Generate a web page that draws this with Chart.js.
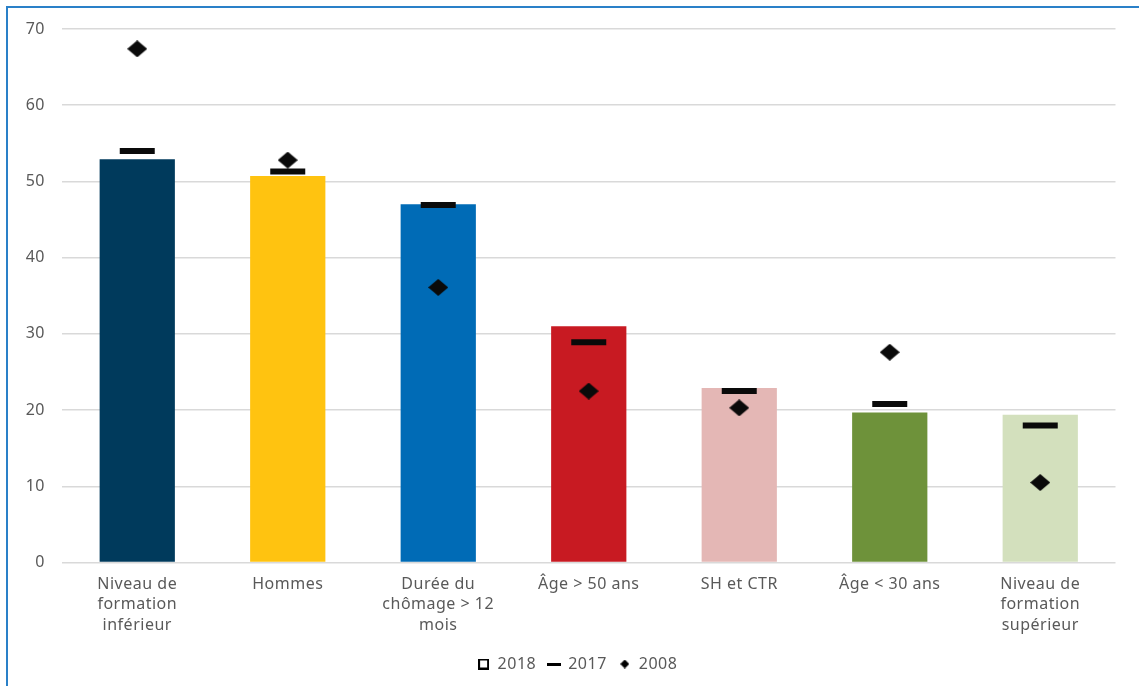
<!DOCTYPE html>
<html>
<head>
<meta charset="utf-8">
<script src="https://cdn.jsdelivr.net/npm/chart.js@4"></script>
<style>
  html, body { margin: 0; padding: 0; background: #fff; overflow: hidden; }
  #wrap { position: relative; width: 1139px; height: 686px; }
  #frame { position: absolute; left: 6px; top: 6px; width: 1200px; height: 760px; border: 2px solid #2A80C8; box-sizing: border-box; pointer-events: none; }
</style>
</head>
<body>
<div id="wrap">
  <canvas id="chart"></canvas>
  <div id="frame"></div>
</div>
<script>
// data
const categories = [
  ['Niveau de', 'formation', 'inférieur'],
  'Hommes',
  ['Durée du', 'chômage > 12', 'mois'],
  'Âge > 50 ans',
  'SH et CTR',
  'Âge < 30 ans',
  ['Niveau de', 'formation', 'supérieur']
];
const values2018 = [52.9, 50.7, 47.0, 31.0, 22.9, 19.7, 19.4];
const values2017 = [54.0, 51.3, 46.9, 28.9, 22.5, 20.8, 18.0];
const values2008 = [67.4, 52.8, 36.1, 22.5, 20.3, 27.6, 10.5];
const seriesNames = ['2018', '2017', '2008'];
const barColors = ['#003A5C', '#FFC310', '#006BB6', '#C81A22', '#E4B7B5', '#6E923A', '#D3E0BD'];

const GREY = '#595959';

function icon(w, h, draw) {
  const c = document.createElement('canvas');
  c.width = w; c.height = h;
  draw(c.getContext('2d'), w, h);
  return c;
}

const diamond = icon(20, 17, (g, w, h) => {
  g.fillStyle = '#0a0a0a';
  g.beginPath();
  g.moveTo(w / 2, 0); g.lineTo(w, h / 2); g.lineTo(w / 2, h); g.lineTo(0, h / 2);
  g.closePath(); g.fill();
});

const legendSquare = icon(11, 11, (g, w, h) => {
  g.strokeStyle = '#000'; g.lineWidth = 2;
  g.strokeRect(1, 1, w - 2, h - 2);
});
const legendLine = icon(14, 3, (g, w, h) => {
  g.fillStyle = '#000'; g.fillRect(0, 0, w, h);
});
const legendDiamond = icon(9, 9, (g, w, h) => {
  g.fillStyle = '#000';
  g.beginPath();
  g.moveTo(w / 2, 0); g.lineTo(w, h / 2); g.lineTo(w / 2, h); g.lineTo(0, h / 2);
  g.closePath(); g.fill();
});
const legendIcons = [legendSquare, legendLine, legendDiamond];

// the reference text is a little spaced out, and its legend sits a bit right of centre
const tweaks = {
  id: 'tweaks',
  beforeLayout: (chart) => { chart.ctx.letterSpacing = '0.5px'; },
  afterLayout: (chart) => {
    chart.legend.left += 18;
    chart.legend.right += 18;
  },
  beforeDraw: (chart) => { chart.ctx.letterSpacing = '0.5px'; }
};

const ctx = document.getElementById('chart').getContext('2d');

new Chart(ctx, {
  type: 'bar',
  plugins: [tweaks],
  data: {
    labels: categories,
    datasets: [
      {
        type: 'bar',
        label: seriesNames[0],
        data: values2018,
        backgroundColor: barColors,
        borderWidth: 0,
        barPercentage: 0.5,
        categoryPercentage: 1,
        order: 3
      },
      {
        type: 'line',
        label: seriesNames[1],
        data: values2017,
        showLine: false,
        pointStyle: 'line',
        pointRadius: 17.5,
        pointBorderWidth: 6,
        pointBorderColor: '#0a0a0a',
        pointBackgroundColor: '#0a0a0a',
        order: 2
      },
      {
        type: 'line',
        label: seriesNames[2],
        data: values2008,
        showLine: false,
        pointStyle: diamond,
        pointRadius: 10,
        order: 1
      }
    ]
  },
  options: {
    responsive: true,
    maintainAspectRatio: false,
    animation: false,
    layout: { padding: { top: 29, right: 20, bottom: 4, left: 0 } },
    scales: {
      x: {
        grid: { display: false },
        border: { display: false },
        ticks: {
          color: GREY,
          font: { family: 'Noto Sans', size: 16, lineHeight: 1.3 },
          maxRotation: 0,
          autoSkip: false,
          padding: 3
        },
        afterFit: (scale) => { scale.height += 5; }
      },
      y: {
        min: 0,
        max: 70,
        grid: { color: '#D9D9D9', lineWidth: 1.5, drawTicks: false },
        border: { display: false },
        ticks: {
          stepSize: 10,
          color: GREY,
          font: { family: 'Noto Sans', size: 16 },
          padding: 17
        },
        afterFit: (scale) => { scale.width = 62; }
      }
    },
    plugins: {
      tooltip: { enabled: false },
      legend: {
        position: 'bottom',
        labels: {
          color: GREY,
          font: { family: 'Noto Sans', size: 16 },
          usePointStyle: true,
          boxWidth: 12,
          padding: 12,
          generateLabels: () => seriesNames.map((name, i) => ({
            text: name,
            pointStyle: legendIcons[i],
            fillStyle: '#000',
            strokeStyle: '#000',
            lineWidth: 0,
            fontColor: GREY,
            datasetIndex: i,
            hidden: false
          }))
        }
      }
    }
  }
});
</script>
</body>
</html>
